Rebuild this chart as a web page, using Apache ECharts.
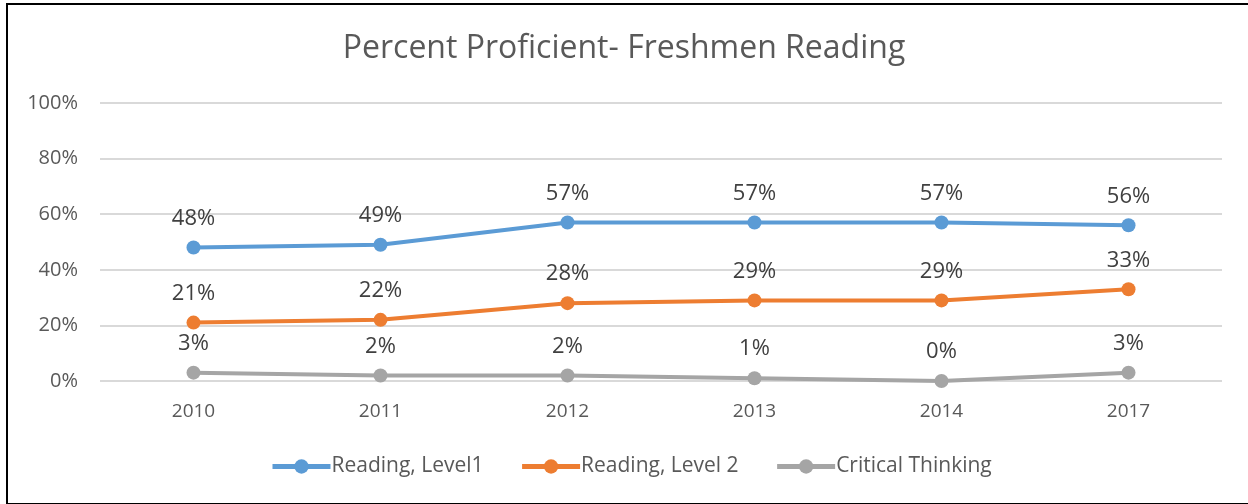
<!DOCTYPE html>
<html>
<head>
<meta charset="utf-8">
<script src="https://cdn.jsdelivr.net/npm/echarts@6/dist/echarts.min.js"></script>
<style>
html,body{margin:0;padding:0;background:#fff;}
#frame{position:absolute;left:6px;top:3px;width:1260px;height:498px;border-top:2px solid #000;border-left:2px solid #000;border-bottom:2px solid #000;}
#chart{position:absolute;left:0;top:0;width:1248px;height:504px;}
</style>
</head>
<body>
<div id="frame"></div>
<div id="chart"></div>
<script>
const categories = ['2010', '2011', '2012', '2013', '2014', '2017'];
const reading1 = [48, 49, 57, 57, 57, 56];
const reading2 = [21, 22, 28, 29, 29, 33];
const critical = [3, 2, 2, 1, 0, 3];
const seriesNames = ['Reading, Level1', 'Reading, Level 2', 'Critical Thinking'];
const colors = ['#5B9BD5', '#ED7D31', '#A5A5A5'];

const font = '"Open Sans", "Noto Sans", sans-serif';
const chart = echarts.init(document.getElementById('chart'), null, {renderer: 'canvas'});

function mk(name, data, color) {
  return {
    name: name,
    type: 'line',
    data: data,
    color: color,
    symbol: 'circle',
    symbolSize: 14,
    lineStyle: {width: 4, color: color},
    itemStyle: {color: color},
    label: {
      show: true,
      position: 'top',
      distance: 11,
      formatter: p => p.value + '%',
      color: '#404040',
      fontSize: 22,
      fontFamily: font
    },
    emphasis: {disabled: true},
    animation: false
  };
}

chart.setOption({
  animation: false,
  title: {
    text: 'Percent Proficient- Freshmen Reading',
    left: 'center',
    top: 28,
    textStyle: {color: '#595959', fontSize: 32, fontWeight: 'normal', fontFamily: font}
  },
  legend: {
    top: 451,
    left: 265,
    itemWidth: 58,
    itemHeight: 18,
    itemGap: 36,
    lineStyle: {width: 5},
    textStyle: {color: '#595959', fontSize: 21, fontFamily: font, padding: [0,0,0,-4]},
    data: seriesNames
  },
  grid: {left: 100, right: 26, top: 103, bottom: 123, containLabel: false},
  xAxis: {
    type: 'category',
    data: categories,
    boundaryGap: true,
    axisLine: {show: false},
    axisTick: {show: false},
    axisLabel: {color: '#595959', fontSize: 19, fontFamily: font, margin: 21}
  },
  yAxis: {
    type: 'value',
    min: 0,
    max: 100,
    interval: 20,
    axisLine: {show: false},
    axisTick: {show: false},
    splitLine: {lineStyle: {color: '#D9D9D9', width: 2}},
    axisLabel: {color: '#595959', fontSize: 20, fontFamily: font, margin: 22, formatter: '{value}%'}
  },
  series: [
    mk(seriesNames[0], reading1, colors[0]),
    mk(seriesNames[1], reading2, colors[1]),
    mk(seriesNames[2], critical, colors[2])
  ]
});
</script>
</body>
</html>
